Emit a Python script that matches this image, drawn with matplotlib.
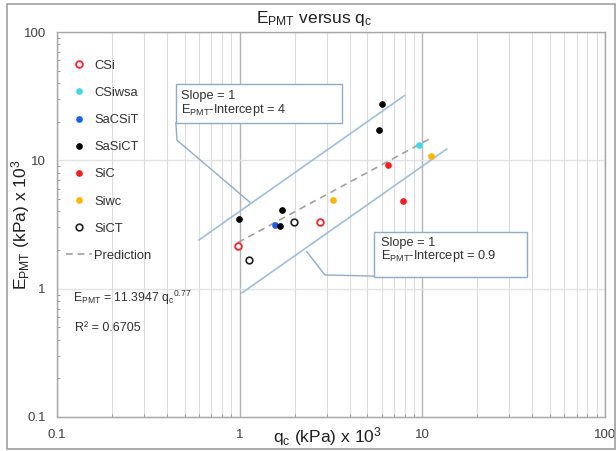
import numpy as np
import matplotlib
matplotlib.use('Agg')
import matplotlib.pyplot as plt
from matplotlib.lines import Line2D
from matplotlib.patches import Rectangle
from matplotlib.ticker import LogLocator, NullFormatter, FixedLocator, FixedFormatter

plt.rcParams['font.family'] = ['Liberation Sans', 'DejaVu Sans']
plt.rcParams['mathtext.fontset'] = 'custom'
plt.rcParams['mathtext.rm'] = 'Liberation Sans'
plt.rcParams['mathtext.it'] = 'Liberation Sans'

# ── data (q_c, E_PMT), both in kPa x 10^3 ───────────────────────
csi_q = [0.98, 2.75]
csi_e = [2.16, 3.33]
csiwsa_q = [9.6]
csiwsa_e = [13.1]
sacsit_q = [1.57]
sacsit_e = [3.14]
sasict_q = [0.99, 1.71, 1.66, 6.0, 5.77]
sasict_e = [3.5, 4.1, 3.1, 27.4, 17.2]
sic_q = [6.46, 7.84]
sic_e = [9.2, 4.85]
siwc_q = [3.24, 11.2]
siwc_e = [4.9, 10.9]
sict_q = [1.12, 1.98]
sict_e = [1.67, 3.33]

# fitted prediction  E = a * (q*1000)^b / 1000
fit_a, fit_b = 11.3947, 0.77
pred_q = [0.98, 11.4]

# slope-1 bound lines: E = intercept * q
upper_icpt, upper_q = 4.0, [0.6, 8.0]
lower_icpt, lower_q = 0.9, [1.03, 13.6]

fig = plt.figure(figsize=(6.16, 4.51), dpi=100)
fig.patch.set_facecolor('white')
ax = fig.add_axes([0.0925, 0.0754, 0.8895, 0.8536])

ax.set_xscale('log')
ax.set_yscale('log')
ax.set_xlim(0.1, 100)
ax.set_ylim(0.1, 100)

# ── grid ────────────────────────────────────────────────────────
ax.grid(which='minor', axis='x', color='#dcdcdc', linewidth=0.8)
ax.grid(which='major', axis='x', color='#b4b4b4', linewidth=1.0)
ax.grid(which='major', axis='y', color='#e3e3e3', linewidth=1.0)
ax.set_axisbelow(True)

for s in ax.spines.values():
    s.set_color('#a6a6a6')
    s.set_linewidth(1.0)

ax.xaxis.set_major_locator(FixedLocator([0.1, 1, 10, 100]))
ax.xaxis.set_major_formatter(FixedFormatter(['0.1', '1', '10', '100']))
ax.yaxis.set_major_locator(FixedLocator([0.1, 1, 10, 100]))
ax.yaxis.set_major_formatter(FixedFormatter(['0.1', '1', '10', '100']))
for axis in (ax.xaxis, ax.yaxis):
    axis.set_minor_locator(LogLocator(base=10, subs=np.arange(2, 10)))
    axis.set_minor_formatter(NullFormatter())
ax.tick_params(which='both', direction='in', color='#8c8c8c', labelcolor='#404040',
               labelsize=9.5)
ax.tick_params(which='major', length=0)
ax.tick_params(which='minor', length=2.5)
ax.tick_params(axis='x', pad=9)
ax.tick_params(axis='y', pad=8)

# ── bound lines and prediction ──────────────────────────────────
blue_line = '#9dbfdf'
ax.plot(upper_q, [upper_icpt * q for q in upper_q], color=blue_line, lw=1.2)
ax.plot(lower_q, [lower_icpt * q for q in lower_q], color=blue_line, lw=1.2)
pq = np.geomspace(pred_q[0], pred_q[1], 50)
ax.plot(pq, fit_a * (pq * 1000) ** fit_b / 1000, color='#a0a0a0', lw=1.2,
        linestyle=(0, (4, 3)))

# ── scatter series ──────────────────────────────────────────────
ms_f, ms_o = 3.8, 4.8
ax.plot(csi_q, csi_e, 'o', ms=ms_o, mfc='white', mec='#ff2020', mew=1.3, label='CSi')
ax.plot(csiwsa_q, csiwsa_e, 'o', ms=ms_f, color='#3fd8ea', label='CSiwsa')
ax.plot(sacsit_q, sacsit_e, 'o', ms=ms_f, color='#1560f0', label='SaCSiT')
ax.plot(sasict_q, sasict_e, 'o', ms=ms_f, color='black', label='SaSiCT')
ax.plot(sic_q, sic_e, 'o', ms=ms_f, color='#ff1a1a', label='SiC')
ax.plot(siwc_q, siwc_e, 'o', ms=ms_f, color='#ffb400', label='Siwc')
ax.plot(sict_q, sict_e, 'o', ms=ms_o, mfc='white', mec='#202020', mew=1.2, label='SiCT')

handles, labels = ax.get_legend_handles_labels()
handles.append(Line2D([0], [0], color='#a0a0a0', lw=1.2, linestyle=(0, (4, 3))))
labels.append('Prediction')
leg = ax.legend(handles, labels, loc='upper left', bbox_to_anchor=(0.016, 0.928),
                frameon=False, fontsize=9.3, handlelength=2.0, handletextpad=0.2,
                labelspacing=1.17, borderpad=0, borderaxespad=0)
for t in leg.get_texts():
    t.set_color('#303030')

# ── equation text ───────────────────────────────────────────────
ax.text(0.029, 0.31, r'E$_{\mathregular{PMT}}$ = 11.3947 q$_{\mathregular{c}}$$^{\mathregular{0.77}}$',
        transform=ax.transAxes, fontsize=8.8, color='#303030', va='center')
ax.text(0.033, 0.232, 'R² = 0.6705', transform=ax.transAxes, fontsize=9,
        color='#303030', va='center')

# ── callout boxes ───────────────────────────────────────────────
box_edge = '#8fabcb'
box_fs = 9.2
ax.add_patch(Rectangle((0.217, 0.764), 0.303, 0.101, transform=ax.transAxes,
                       facecolor='white', edgecolor=box_edge, lw=1.0, zorder=5))
ax.plot([0.217, 0.219, 0.352], [0.764, 0.719, 0.558], transform=ax.transAxes,
        color=box_edge, lw=1.0, zorder=5)
ax.text(0.226, 0.833, 'Slope = 1', transform=ax.transAxes, fontsize=box_fs,
        color='#303030', va='center', zorder=6)
ax.text(0.226, 0.797, r'E$_{\mathregular{PMT}}$-Intercept = 4', transform=ax.transAxes,
        fontsize=box_fs, color='#303030', va='center', zorder=6)

ax.add_patch(Rectangle((0.578, 0.364), 0.280, 0.117, transform=ax.transAxes,
                       facecolor='white', edgecolor=box_edge, lw=1.0, zorder=5))
ax.plot([0.578, 0.489, 0.456], [0.366, 0.369, 0.429], transform=ax.transAxes,
        color=box_edge, lw=1.0, zorder=5)
ax.text(0.591, 0.452, 'Slope = 1', transform=ax.transAxes, fontsize=box_fs,
        color='#303030', va='center', zorder=6)
ax.text(0.591, 0.417, r'E$_{\mathregular{PMT}}$-Intercept = 0.9', transform=ax.transAxes,
        fontsize=box_fs, color='#303030', va='center', zorder=6)

# ── titles and labels ───────────────────────────────────────────
fig.text(0.51, 0.958, r'E$_{\mathregular{PMT}}$ versus q$_{\mathregular{c}}$',
         ha='center', va='center', fontsize=12.5, color='#202020')
fig.text(0.532, 0.031, r'q$_{\mathregular{c}}$ (kPa) x 10$^{\mathregular{3}}$',
         ha='center', va='center', fontsize=12.5, color='#202020')
fig.text(0.033, 0.501, r'E$_{\mathregular{PMT}}$ (kPa) x 10$^{\mathregular{3}}$',
         ha='center', va='center', rotation=90, fontsize=12.5, color='#202020')

# outer border
fig.add_artist(Rectangle((7 / 616, 2 / 451), 608 / 616, 445 / 451,
                         transform=fig.transFigure, fill=False,
                         edgecolor='#a0a0a0', lw=1.2))

fig.savefig('out.png', dpi=100, facecolor='white')
